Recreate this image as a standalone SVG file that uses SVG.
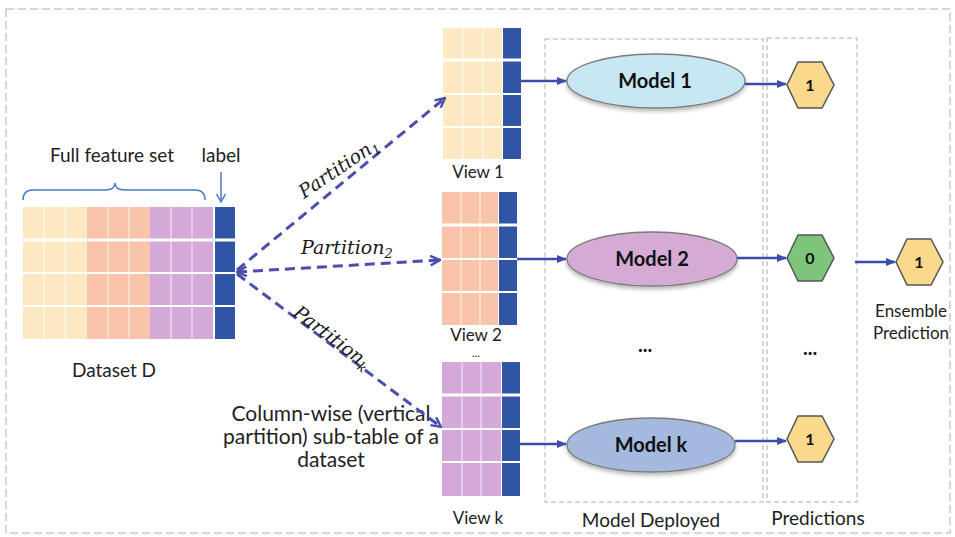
<svg xmlns="http://www.w3.org/2000/svg" width="955" height="537" viewBox="0 0 955 537">
  <defs>
    <style>
      .lbl { font-family: Lato, "Open Sans", "Liberation Sans", sans-serif; font-size: 19px; fill: #222; text-anchor: middle; }
      .note { font-size: 21px; }
      .view { font-size: 17px; }
      .ens { font-size: 17px; }
      .tiny { font-size: 11px; }
      .mdl { font-family: Lato, "Open Sans", "Liberation Sans", sans-serif; font-size: 20px; font-weight: 700; fill: #111; text-anchor: middle; }
      .hexl { font-family: Lato, "Open Sans", "Liberation Sans", sans-serif; font-size: 16px; font-weight: 700; fill: #111; text-anchor: middle; }
      .part { font-family: "DejaVu Serif", "Liberation Serif", serif; font-style: italic; font-size: 19px; fill: #1a1a1a; }
      .sub { font-size: 13px; }
      .box { fill: none; stroke: #cfc8c8; stroke-width: 1.6; stroke-dasharray: 5 3; }
      .dash { fill: none; stroke: #4a4fae; stroke-width: 3; stroke-dasharray: 10 6; }
      .solid { fill: none; stroke: #3b4cae; stroke-width: 2.5; }
      .grid { stroke: #ffffff; }
      .hex { stroke: #555; stroke-width: 1.5; }
      .ell { stroke: #7d7d7d; stroke-width: 1.3; filter: url(#shadow); }
    </style>
    <marker id="openHead" viewBox="0 0 10 10" refX="9" refY="5" markerWidth="4" markerHeight="4" orient="auto-start-reverse" markerUnits="strokeWidth">
      <path d="M1,1 L9,5 L1,9" fill="none" stroke="#4a4fae" stroke-width="2"/>
    </marker>
    <marker id="solidHead" viewBox="0 0 10 10" refX="9" refY="5" markerWidth="4" markerHeight="4" orient="auto" markerUnits="strokeWidth">
      <path d="M0,1 L10,5 L0,9 Z" fill="#3b4cae"/>
    </marker>
    <filter id="shadow" x="-10%" y="-20%" width="120%" height="150%">
      <feDropShadow dx="0" dy="2.5" stdDeviation="2" flood-color="#000" flood-opacity="0.3"/>
    </filter>
  </defs>

  <!-- outer frame -->
  <rect x="6" y="9" width="944" height="524" fill="none" stroke="#d6d6d6" stroke-width="2" stroke-dasharray="8 4"/>

  <!-- Dataset D: full table with label column -->
  <g id="dataset">
    <rect x="23" y="207" width="64" height="132" fill="#fce9c1"/>
    <rect x="87" y="207" width="63" height="132" fill="#f8c3a9"/>
    <rect x="150" y="207" width="63" height="132" fill="#d4a9d7"/>
    <rect x="215" y="207" width="20" height="132" fill="#2f55a4"/>
    <g class="grid" stroke-width="1" stroke-opacity="0.8">
      <line x1="44" y1="207" x2="44" y2="339"/>
      <line x1="65" y1="207" x2="65" y2="339"/>
      <line x1="108" y1="207" x2="108" y2="339"/>
      <line x1="129" y1="207" x2="129" y2="339"/>
      <line x1="171" y1="207" x2="171" y2="339"/>
      <line x1="192" y1="207" x2="192" y2="339"/>
    </g>
    <g class="grid">
      <line x1="23" y1="240" x2="235" y2="240" stroke-width="3"/>
      <line x1="23" y1="273" x2="235" y2="273" stroke-width="1.8"/>
      <line x1="23" y1="306" x2="235" y2="306" stroke-width="1.8"/>
    </g>
    <!-- brace over feature columns -->
    <path d="M23,200 Q23,190 33,190 L105,190 Q115,190 115,183 Q115,190 125,190 L195,190 Q205,190 205,200" fill="none" stroke="#4a78c8" stroke-width="1.5"/>
    <text class="lbl" x="112" y="162">Full feature set</text>
    <text class="lbl" x="221" y="162">label</text>
    <line x1="221" y1="172" x2="221" y2="200" stroke="#4a78c8" stroke-width="1.5"/>
    <path d="M216.5,194 L221,202 L225.5,194" fill="none" stroke="#4a78c8" stroke-width="1.5"/>
    <text class="lbl" x="114" y="377">Dataset D</text>
    <text class="lbl note" x="331" y="421">Column-wise (vertical</text>
    <text class="lbl note" x="331" y="444">partition) sub-table of a</text>
    <text class="lbl note" x="331" y="467">dataset</text>
  </g>

  <!-- View 1 -->
  <g id="view1">
    <rect x="443" y="28" width="59" height="131" fill="#fce9c1"/>
    <rect x="503" y="28" width="18" height="131" fill="#2f55a4"/>
    <g class="grid" stroke-width="1" stroke-opacity="0.8">
      <line x1="463" y1="28" x2="463" y2="159"/>
      <line x1="483" y1="28" x2="483" y2="159"/>
    </g>
    <g class="grid">
      <line x1="443" y1="60" x2="521" y2="60" stroke-width="3"/>
      <line x1="443" y1="94" x2="521" y2="94" stroke-width="1.8"/>
      <line x1="443" y1="127" x2="521" y2="127" stroke-width="1.8"/>
    </g>
    <text class="lbl view" x="478" y="178">View 1</text>
  </g>

  <!-- View 2 -->
  <g id="view2">
    <rect x="442" y="192" width="56" height="133" fill="#f8c3a9"/>
    <rect x="499" y="192" width="18" height="133" fill="#2f55a4"/>
    <g class="grid" stroke-width="1" stroke-opacity="0.8">
      <line x1="461" y1="192" x2="461" y2="325"/>
      <line x1="480" y1="192" x2="480" y2="325"/>
    </g>
    <g class="grid">
      <line x1="442" y1="225" x2="517" y2="225" stroke-width="3"/>
      <line x1="442" y1="259" x2="517" y2="259" stroke-width="1.8"/>
      <line x1="442" y1="292" x2="517" y2="292" stroke-width="1.8"/>
    </g>
    <text class="lbl view" x="476" y="341">View 2</text>
    <text class="lbl tiny" x="476" y="357">...</text>
  </g>

  <!-- View k -->
  <g id="viewk">
    <rect x="442" y="362" width="59" height="134" fill="#d4a9d7"/>
    <rect x="502" y="362" width="18" height="134" fill="#2f55a4"/>
    <g class="grid" stroke-width="1" stroke-opacity="0.8">
      <line x1="462" y1="362" x2="462" y2="496"/>
      <line x1="481" y1="362" x2="481" y2="496"/>
    </g>
    <g class="grid">
      <line x1="442" y1="395" x2="520" y2="395" stroke-width="3"/>
      <line x1="442" y1="429" x2="520" y2="429" stroke-width="1.8"/>
      <line x1="442" y1="462" x2="520" y2="462" stroke-width="1.8"/>
    </g>
    <text class="lbl view" x="478" y="524">View k</text>
  </g>

  <!-- deployed models -->
  <g id="model-deployed">
    <rect class="box" x="545" y="39" width="218" height="463"/>
    <text class="lbl" x="651" y="527">Model Deployed</text>
    <text class="mdl" x="645" y="352">...</text>
  </g>
  <g id="model1">
    <ellipse class="ell" cx="656" cy="81" rx="89" ry="27" fill="#c7e8f2"/>
    <text class="mdl" x="655" y="88">Model 1</text>
  </g>
  <g id="model2">
    <ellipse class="ell" cx="652" cy="259" rx="85" ry="27" fill="#d5abd6"/>
    <text class="mdl" x="652" y="266">Model 2</text>
  </g>
  <g id="modelk">
    <ellipse class="ell" cx="651" cy="445" rx="84" ry="27" fill="#a3b9de"/>
    <text class="mdl" x="651" y="452">Model k</text>
  </g>

  <!-- predictions -->
  <g id="predictions">
    <rect class="box" x="767" y="38" width="90" height="464"/>
    <text class="lbl" x="818" y="525">Predictions</text>
    <text class="mdl" x="810" y="355">...</text>
  </g>
  <g id="pred1">
    <polygon class="hex" points="787,85 798,62 822,62 834,85 822,108 798,108" fill="#f9d98c"/>
    <text class="hexl" x="810" y="91">1</text>
  </g>
  <g id="pred2">
    <polygon class="hex" points="787,258 798,235 822,235 834,258 822,281 798,281" fill="#7ec47a"/>
    <text class="hexl" x="810" y="264">0</text>
  </g>
  <g id="predk">
    <polygon class="hex" points="787,439 798,416 822,416 834,439 822,462 798,462" fill="#f9d98c"/>
    <text class="hexl" x="810" y="445">1</text>
  </g>
  <g id="ensemble">
    <polygon class="hex" points="896,262 907,239 931,239 943,262 931,285 907,285" fill="#f9d98c"/>
    <text class="hexl" x="919" y="268">1</text>
    <text class="lbl ens" x="911" y="317">Ensemble</text>
    <text class="lbl ens" x="911" y="339">Prediction</text>
  </g>

  <!-- connectors -->
  <g id="connectors">
    <line class="dash" x1="237" y1="270" x2="445" y2="98" marker-end="url(#openHead)"/>
    <line class="dash" x1="237" y1="272" x2="440" y2="260" marker-start="url(#openHead)" marker-end="url(#openHead)"/>
    <line class="dash" x1="237" y1="274" x2="441" y2="427" marker-end="url(#openHead)"/>
    <line class="solid" x1="521" y1="81" x2="566" y2="81" marker-end="url(#solidHead)"/>
    <line class="solid" x1="517" y1="259" x2="566" y2="259" marker-end="url(#solidHead)"/>
    <line class="solid" x1="520" y1="444" x2="566" y2="444" marker-end="url(#solidHead)"/>
    <line class="solid" x1="745" y1="84" x2="786" y2="84" marker-end="url(#solidHead)"/>
    <line class="solid" x1="737" y1="258" x2="786" y2="258" marker-end="url(#solidHead)"/>
    <line class="solid" x1="735" y1="441" x2="786" y2="441" marker-end="url(#solidHead)"/>
    <line class="solid" x1="855" y1="262" x2="895" y2="262" marker-end="url(#solidHead)"/>
    <text class="part" transform="translate(304,199) rotate(-34)">Partition<tspan class="sub" dy="4">1</tspan></text>
    <text class="part" x="301" y="254">Partition<tspan class="sub" dy="4">2</tspan></text>
    <text class="part" transform="translate(292,315) rotate(37)">Partition<tspan class="sub" dy="4">k</tspan></text>
  </g>
</svg>
